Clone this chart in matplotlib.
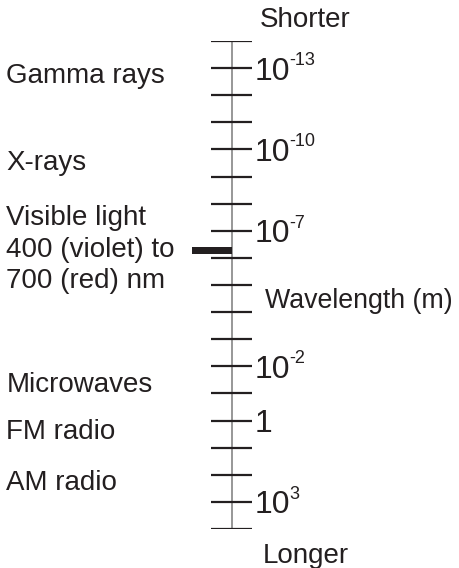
import numpy as np
import matplotlib
matplotlib.use("Agg")
import matplotlib.pyplot as plt

# ---- data ----
exponents = list(range(-14, 5))               # one tick per decade (m)
labeled_exponents = [-13, -10, -7, -2, 0, 3]  # labelled decades
visible_nm = [400, 700]                        # visible light range (nm)
band_names = ["Gamma rays", "X-rays", "Visible light\n400 (violet) to\n700 (red) nm",
              "Microwaves", "FM radio", "AM radio"]
axis_title = "Wavelength (m)"
top_label = "Shorter"
bottom_label = "Longer"

W, H = 459, 568
DPI = 100
TXT = "#231f20"
plt.rcParams['font.family'] = ['Liberation Sans', 'DejaVu Sans']

fig = plt.figure(figsize=(W / DPI, H / DPI), dpi=DPI)
top_px, bot_px = 41, 529
ax = fig.add_axes([0, (H - bot_px) / H, 1, (bot_px - top_px) / H])
ax.set_xlim(0, W)
ax.set_ylim(max(exponents), min(exponents))
ax.axis('off')

x_axis = 231.7
ax.vlines(x_axis, min(exponents), max(exponents), color="#7a7a7a", lw=1.1, zorder=1)
ax.hlines(exponents, 211, 252, color=TXT, lw=1.6, zorder=2)

# visible light bar
lo, hi = np.log10(np.array(visible_nm) * 1e-9)
ax.barh((lo + hi) / 2, x_axis - 192, height=(hi - lo), left=192, color=TXT, zorder=3)

# tick labels
for e in labeled_exponents:
    if e == 0:
        ax.annotate("1", xy=(254.5, e), xytext=(0, -8.3), textcoords='offset points',
                    fontsize=23, color=TXT, va='baseline', ha='left')
    else:
        ax.annotate("10", xy=(254.5, e), xytext=(0, -8.3), textcoords='offset points',
                    fontsize=23, color=TXT, va='baseline', ha='left')
        ax.annotate(f"{e}", xy=(289.5, e), xytext=(0, 2.2), textcoords='offset points',
                    fontsize=13, color=TXT, va='baseline', ha='left')

def ftext(x, y, s, size=20):
    fig.text(x / W, 1 - y / H, s, fontsize=size, color=TXT, va='baseline', ha='left')

ftext(259.5, 27, top_label)
ftext(265, 308, axis_title, size=19.3)
ftext(263, 563, bottom_label)

# band labels (baselines in pixels)
band_baselines = [83.3, 170, None, 392, 439, 490]
for name, b in zip(band_names, band_baselines):
    if b is None:
        for line, yb in zip(name.split("\n"), [225, 257, 287.5]):
            ftext(6.5, yb, line)
    else:
        ftext(6.5, b, name)

fig.savefig("out.png", dpi=DPI)
